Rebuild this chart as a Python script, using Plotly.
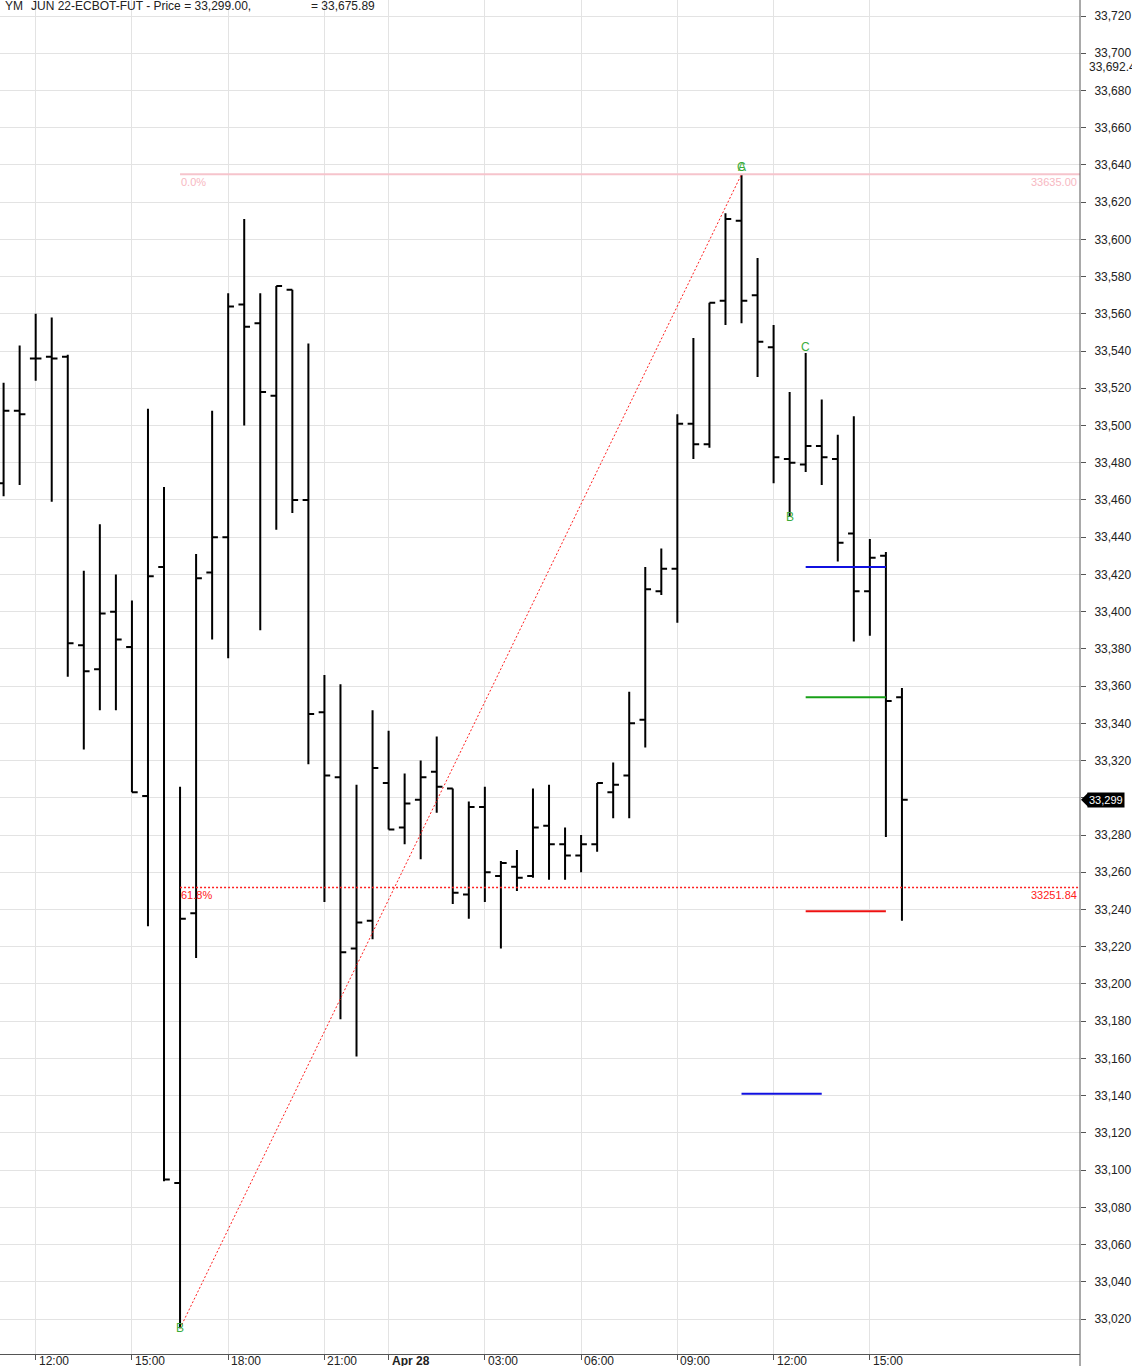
import plotly.graph_objects as go

# ---------------- data ----------------
times = [
    "Apr 27 11:00", "Apr 27 11:30", "Apr 27 12:00", "Apr 27 12:30", "Apr 27 13:00", "Apr 27 13:30",
    "Apr 27 14:00", "Apr 27 14:30", "Apr 27 15:00", "Apr 27 15:30", "Apr 27 16:00", "Apr 27 16:30",
    "Apr 27 17:00", "Apr 27 17:30", "Apr 27 18:00", "Apr 27 18:30", "Apr 27 19:00", "Apr 27 19:30",
    "Apr 27 20:00", "Apr 27 20:30", "Apr 27 21:00", "Apr 27 21:30", "Apr 27 23:00", "Apr 27 23:30",
    "Apr 28 00:00", "Apr 28 00:30", "Apr 28 01:00", "Apr 28 01:30", "Apr 28 02:00", "Apr 28 02:30",
    "Apr 28 03:00", "Apr 28 03:30", "Apr 28 04:00", "Apr 28 04:30", "Apr 28 05:00", "Apr 28 05:30",
    "Apr 28 06:00", "Apr 28 06:30", "Apr 28 07:00", "Apr 28 07:30", "Apr 28 08:00", "Apr 28 08:30",
    "Apr 28 09:00", "Apr 28 09:30", "Apr 28 10:00", "Apr 28 10:30", "Apr 28 11:00", "Apr 28 11:30",
    "Apr 28 12:00", "Apr 28 12:30", "Apr 28 13:00", "Apr 28 13:30", "Apr 28 14:00", "Apr 28 14:30",
    "Apr 28 15:00", "Apr 28 15:30", "Apr 28 16:00",
]

opens = [33469, 33508, 33536, 33537, 33537, 33382, 33369, 33400, 33381, 33301,
         33424, 33093, 33238, 33421, 33440, 33565, 33555, 33516, 33573, 33460,
         33346, 33311, 33219, 33234, 33308, 33284, 33299, 33314, 33305, 33248,
         33295, 33258, 33263, 33258, 33285, 33275, 33269, 33275, 33303, 33312,
         33342, 33411, 33423, 33501, 33490, 33567, 33610, 33570, 33542, 33482,
         33479, 33489, 33482, 33442, 33411, 33430, 33354]
highs = [33523, 33543, 33560, 33558, 33538, 33422, 33447, 33420, 33406, 33509,
         33467, 33306, 33431, 33508, 33571, 33611, 33571, 33575, 33573, 33544,
         33366, 33361, 33307, 33347, 33336, 33313, 33320, 33333, 33305, 33298,
         33306, 33266, 33272, 33305, 33307, 33284, 33280, 33308, 33319, 33357,
         33424, 33434, 33506, 33547, 33566, 33614, 33635, 33590, 33554, 33518,
         33539, 33514, 33495, 33505, 33439, 33432, 33359]
lows = [33462, 33468, 33524, 33459, 33365, 33326, 33347, 33347, 33303, 33231,
        33094, 33015, 33214, 33385, 33375, 33500, 33390, 33444, 33453, 33318,
        33244, 33181, 33161, 33224, 33283, 33275, 33267, 33292, 33243, 33235,
        33244, 33219, 33250, 33257, 33256, 33256, 33260, 33271, 33289, 33289,
        33327, 33409, 33394, 33482, 33488, 33554, 33555, 33526, 33469, 33451,
        33475, 33468, 33427, 33384, 33387, 33279, 33234]
closes = [33508, 33506, 33536, 33536, 33383, 33368, 33399, 33385, 33303, 33419,
          33095, 33235, 33418, 33440, 33564, 33553, 33518, 33575, 33460, 33345,
          33312, 33217, 33233, 33316, 33283, 33297, 33311, 33306, 33249, 33295,
          33260, 33265, 33257, 33284, 33275, 33269, 33275, 33308, 33307, 33340,
          33412, 33423, 33501, 33490, 33566, 33611, 33567, 33545, 33483, 33480,
          33489, 33483, 33437, 33411, 33429, 33352, 33299]

tick_idx = [2, 8, 14, 20, 24, 30, 36, 42, 48, 54]
tick_text = ["12:00", "15:00", "18:00", "21:00", "<b>Apr 28</b>", "03:00", "06:00", "09:00", "12:00", "15:00"]

# price axis ticks (the 33,300 label is covered by the last-price tag)
y_tickvals = [33020, 33040, 33060, 33080, 33100, 33120, 33140, 33160, 33180, 33200,
              33220, 33240, 33260, 33280, 33300, 33320, 33340, 33360, 33380, 33400,
              33420, 33440, 33460, 33480, 33500, 33520, 33540, 33560, 33580, 33600,
              33620, 33640, 33660, 33680, 33700, 33720]
y_ticktext = ["33,020", "33,040", "33,060", "33,080", "33,100", "33,120", "33,140", "33,160",
              "33,180", "33,200", "33,220", "33,240", "33,260", "33,280", "", "33,320",
              "33,340", "33,360", "33,380", "33,400", "33,420", "33,440", "33,460", "33,480",
              "33,500", "33,520", "33,540", "33,560", "33,580", "33,600", "33,620", "33,640",
              "33,660", "33,680", "33,700", "33,720"]

# Fibonacci retracement (swing low -> swing high)
fib_low_idx, fib_low = 11, 33015.0
fib_high_idx, fib_high = 46, 33635.0
fib_ratio = 0.618

# ABC wave labels: (bar index, text, price, pixel shift)
wave_labels = [(11, "B", 33015, 0), (46, "A", 33635, 7), (46, "C", 33635, 7),
               (49, "B", 33451, 0), (50, "C", 33539, 6)]

# Horizontal target levels: (start bar, end bar, price, colour)
level_start = [50, 50, 50, 46]
level_end = [55, 55, 55, 51]
level_price = [33424, 33354, 33239, 33141]
level_color = ["#1010e0", "#18a018", "#ee1111", "#1010e0"]

last_price = 33299
extra_axis_value = 33692.4
header_left = "JUN 22-ECBOT-FUT - Price = 33,299.00,"
header_right = "= 33,675.89"

Y_MIN, Y_MAX = 33001.2, 33728.6
X_MIN, X_MAX = -0.224, 67.1
FONT = "Liberation Sans, Arial, sans-serif"
GREEN = "#3aac3a"
FIB_RED = "#ff2020"
FIB_PINK = "#f6c4cc"

fig = go.Figure()
fig.add_trace(go.Ohlc(
    x=times, open=opens, high=highs, low=lows, close=closes,
    increasing=dict(line=dict(color="black", width=2)),
    decreasing=dict(line=dict(color="black", width=2)),
    tickwidth=0.36, showlegend=False, hoverinfo="skip"))

fib_618 = fib_high - fib_ratio * (fib_high - fib_low)

# Fib level lines drawn on a hidden numeric overlay axis (bar-position units)
fig.add_trace(go.Scatter(x=[fib_low_idx, X_MAX], y=[fib_high, fib_high], xaxis="x2",
                         mode="lines", line=dict(color=FIB_PINK, width=2),
                         showlegend=False, hoverinfo="skip"))
fig.add_trace(go.Scatter(x=[fib_low_idx, X_MAX], y=[fib_618, fib_618], xaxis="x2",
                         mode="lines", line=dict(color=FIB_RED, width=1.5, dash="2px,2px"),
                         showlegend=False, hoverinfo="skip"))

# Fib diagonal
fig.add_trace(go.Scatter(
    x=[times[fib_low_idx], times[fib_high_idx]], y=[fib_low, fib_high],
    mode="lines", line=dict(color=FIB_RED, width=1, dash="2px,2px"),
    showlegend=False, hoverinfo="skip"))

# Target levels
for s, e, p, c in zip(level_start, level_end, level_price, level_color):
    fig.add_trace(go.Scatter(x=[times[s], times[e]], y=[p, p], mode="lines",
                             line=dict(color=c, width=2), showlegend=False, hoverinfo="skip"))

shapes = [
    dict(type="line", xref="paper", yref="paper", x0=1, x1=1, y0=-0.02, y1=1,
         line=dict(color="#555555", width=1)),
    dict(type="path", xref="paper", yref="y", xsizemode="pixel", xanchor=1,
         ysizemode="pixel", yanchor=last_price,
         path="M 1 0 L 8 7 L 8 -7 Z", fillcolor="black", line=dict(width=0)),
]

annotations = []
for i, t in zip(tick_idx, tick_text):
    annotations.append(dict(x=times[i], y=0, xref="x", yref="paper", text=t, showarrow=False,
                            xanchor="left", yanchor="top", xshift=1, yshift=2,
                            font=dict(family=FONT, size=12, color="#222")))
for i, t, p, sh in wave_labels:
    annotations.append(dict(x=times[i], y=p, xref="x", yref="y", text=t, showarrow=False,
                            xanchor="center", yanchor="middle", yshift=sh,
                            font=dict(family=FONT, size=12, color=GREEN)))
annotations += [
    dict(x=fib_low_idx, y=fib_high, xref="x2", yref="y", text="0.0%", showarrow=False,
         xanchor="left", yanchor="top", xshift=-1, font=dict(family=FONT, size=11, color="#f7b8c2")),
    dict(x=1, y=fib_high, xref="paper", yref="y", text=f"{fib_high:.2f}", showarrow=False,
         xanchor="right", yanchor="top", xshift=-1, font=dict(family=FONT, size=11, color="#f7b8c2")),
    dict(x=fib_low_idx, y=fib_618, xref="x2", yref="y", text="61.8%", showarrow=False,
         xanchor="left", yanchor="top", xshift=-1, font=dict(family=FONT, size=11, color=FIB_RED)),
    dict(x=1, y=fib_618, xref="paper", yref="y", text=f"{fib_618:.2f}", showarrow=False,
         xanchor="right", yanchor="top", xshift=-1, font=dict(family=FONT, size=11, color=FIB_RED)),
    dict(x=1, y=last_price, xref="paper", yref="y", text=f"{last_price:,}", showarrow=False,
         xanchor="left", yanchor="middle", xshift=7, bgcolor="black", borderpad=1,
         font=dict(family=FONT, size=11, color="white")),
    dict(x=1, y=extra_axis_value, xref="paper", yref="y", text=f"{extra_axis_value:,.1f}", showarrow=False,
         xanchor="left", yanchor="middle", xshift=7, font=dict(family=FONT, size=12, color="#222")),
    dict(x=3 / 1080, y=1, xref="paper", yref="paper", text="YM", showarrow=False,
         xanchor="left", yanchor="top", yshift=3, font=dict(family=FONT, size=12, color="#222")),
    dict(x=29 / 1080, y=1, xref="paper", yref="paper", text=header_left, showarrow=False,
         xanchor="left", yanchor="top", yshift=3, font=dict(family=FONT, size=12, color="#222")),
    dict(x=309 / 1080, y=1, xref="paper", yref="paper", text=header_right, showarrow=False,
         xanchor="left", yanchor="top", yshift=3, font=dict(family=FONT, size=12, color="#222")),
]

fig.update_layout(
    width=1132, height=1366,
    margin=dict(l=0, r=52, t=0, b=12),
    paper_bgcolor="white", plot_bgcolor="white",
    font=dict(family=FONT, size=12, color="#222"),
    showlegend=False,
    shapes=shapes, annotations=annotations,
    xaxis=dict(type="category", range=[X_MIN, X_MAX], tickmode="array",
               tickvals=[times[i] for i in tick_idx], showticklabels=False,
               ticks="outside", ticklen=5, tickcolor="#555", showgrid=True,
               gridcolor="#e3e3e3", gridwidth=1, showline=True, linecolor="#555",
               linewidth=1, zeroline=False, rangeslider=dict(visible=False), fixedrange=True),
    xaxis2=dict(type="linear", overlaying="x", range=[X_MIN, X_MAX], visible=False,
                showgrid=False, zeroline=False, fixedrange=True),
    yaxis=dict(side="right", range=[Y_MIN, Y_MAX], tickmode="array",
               tickvals=y_tickvals, ticktext=y_ticktext,
               ticks="outside", ticklen=5, tickcolor="#555", showgrid=True, gridcolor="#e3e3e3",
               gridwidth=1, showline=False, zeroline=False, ticklabelstandoff=6,
               tickfont=dict(family=FONT, size=12, color="#222"), fixedrange=True),
)

fig.write_html("out.html", config={"displayModeBar": False},
               post_script="document.body.style.margin='0';")
